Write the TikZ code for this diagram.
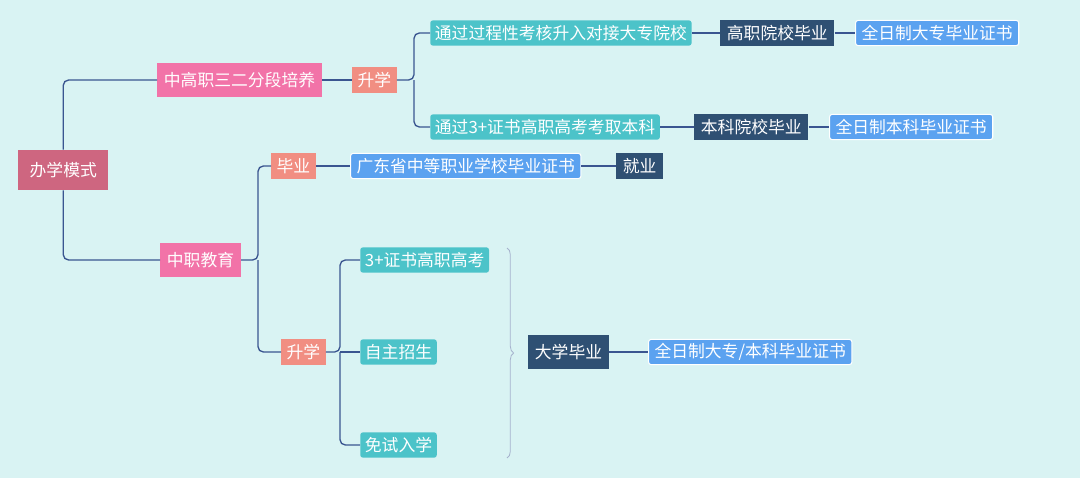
\documentclass[tikz,border=0pt]{standalone}
\usepackage{fontspec}
\setmainfont{Noto Sans CJK SC}
\usetikzlibrary{positioning,decorations.pathreplacing}
\definecolor{bgcol}{HTML}{D9F3F3}
\definecolor{rootcol}{HTML}{CE6680}
\definecolor{pinkcol}{HTML}{F273A8}
\definecolor{salmoncol}{HTML}{F18E82}
\definecolor{tealcol}{HTML}{4CC3C9}
\definecolor{navycol}{HTML}{2F5073}
\definecolor{bluecol}{HTML}{5BA2F0}
\definecolor{linecol}{HTML}{3A5590}

\begin{document}
\begin{tikzpicture}[x=0.75pt,y=-0.75pt,
    box/.style={text=white,font=\fontsize{12.6}{13}\selectfont,inner sep=0pt,anchor=west},
    root/.style={box,fill=rootcol,minimum width=67.5pt,minimum height=30pt},
    pink/.style={box,fill=pinkcol,minimum height=25.5pt,inner xsep=5pt},
    salmon/.style={box,fill=salmoncol,minimum height=19.5pt,inner xsep=4pt},
    teal/.style={box,fill=tealcol,rounded corners=2pt,minimum height=19pt,inner xsep=3.5pt},
    navy/.style={box,fill=navycol,minimum height=19.5pt,inner xsep=5pt},
    blue/.style={box,fill=bluecol,draw=white,line width=0.8pt,rounded corners=2pt,minimum height=19pt,inner xsep=4.5pt},
    link/.style={draw=linecol,line width=1pt,rounded corners=4pt}]
  \fill[bgcol] (0,0) rectangle (1080,478);

  \node[root]   (mode)   at (18,170)  {办学模式};
  \node[pink]   (sanE)   at (157,80)  {中高职三二分段培养};
  \node[salmon] (up1)    at (352,80)  {升学};
  \node[teal]   (dazhuan) at (430,33) {通过过程性考核升入对接大专院校};
  \node[navy]   (gzgrad) at (720,33)  {高职院校毕业};
  \node[blue]   (dzcert) at (855,33)  {全日制大专毕业证书};
  \node[teal]   (benke)  at (430,127) {通过3+证书高职高考考取本科};
  \node[navy]   (bkgrad) at (694,127) {本科院校毕业};
  \node[blue]   (bkcert) at (829,127) {全日制本科毕业证书};

  \node[pink]   (zhong)  at (160,260) {中职教育};
  \node[salmon] (grad)   at (271,166) {毕业};
  \node[blue]   (gdcert) at (350,166) {广东省中等职业学校毕业证书};
  \node[navy]   (job)    at (616,166) {就业};
  \node[salmon] (up2)    at (281,352) {升学};
  \node[teal]   (exam)   at (360,260) {3+证书高职高考};
  \node[teal]   (self)   at (360,352) {自主招生};
  \node[teal]   (free)   at (360,445) {免试入学};
  \node[navy,minimum height=25.5pt] (unigrad) at (528,352) {大学毕业};
  \node[blue]   (unicert) at (648,352) {全日制大专/本科毕业证书};

  % tree links
  \draw[link] (mode.north) |- (sanE.west);
  \draw[link] (mode.south) |- (zhong.west);
  \draw[link] (sanE) -- (up1);
  \draw[link] (up1.east) -- (414,80) |- (dazhuan.west);
  \draw[link] (414,80) |- (benke.west);
  \draw[link] (dazhuan) -- (gzgrad);
  \draw[link] (gzgrad) -- (dzcert);
  \draw[link] (benke) -- (bkgrad);
  \draw[link] (bkgrad) -- (bkcert);
  \draw[link] (zhong.east) -- (258,260) |- (grad.west);
  \draw[link] (258,260) |- (up2.west);
  \draw[link] (grad) -- (gdcert);
  \draw[link] (gdcert) -- (job);
  \draw[link] (up2.east) -- (340,352) |- (exam.west);
  \draw[link] (340,352) |- (free.west);
  \draw[link] (340,352) -- (self.west);
  \draw[link] (unigrad) -- (unicert);

  \draw[decorate,decoration={brace,amplitude=5pt},draw=linecol!45,line width=0.6pt]
    (507,248) -- (507,458);
\end{tikzpicture}
\end{document}
